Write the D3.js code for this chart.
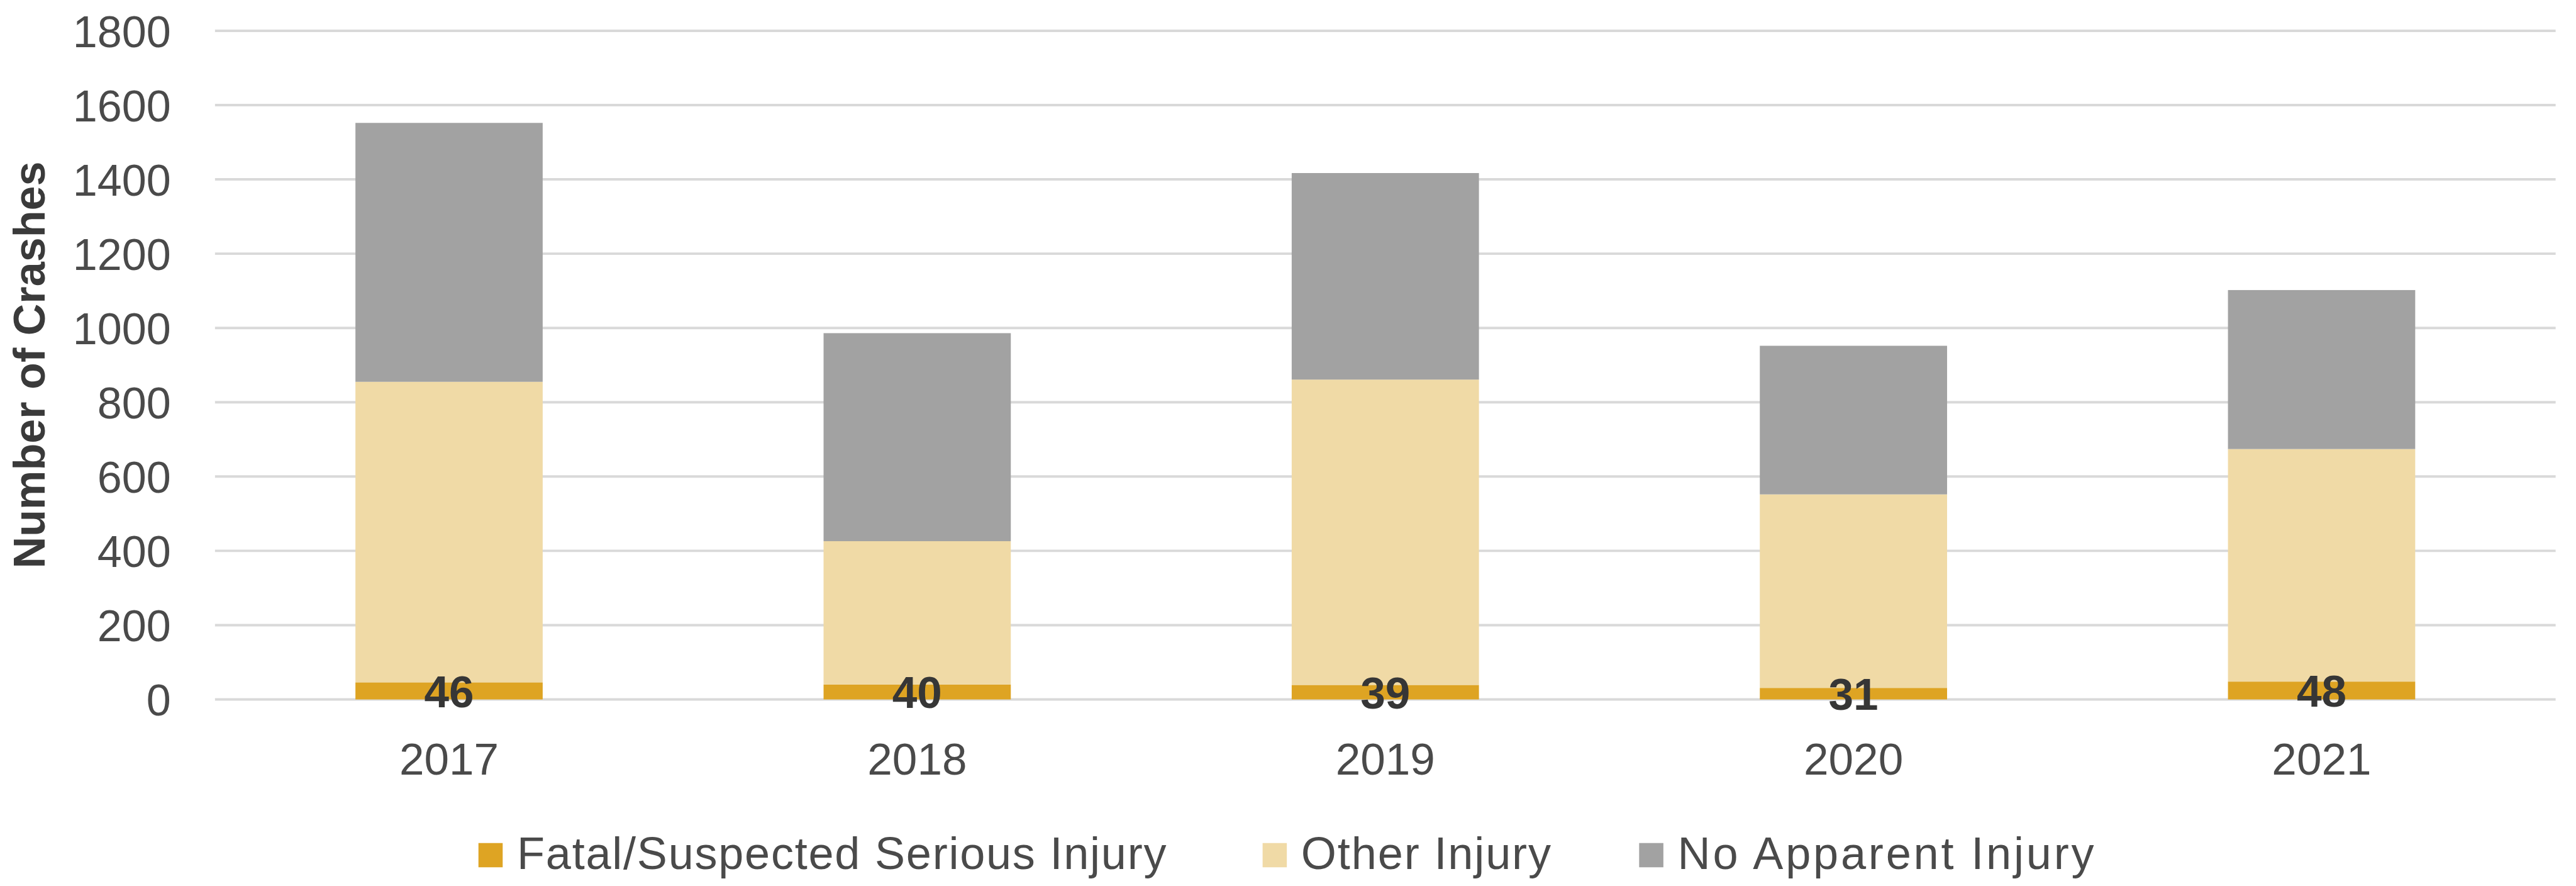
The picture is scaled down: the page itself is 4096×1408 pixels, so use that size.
<!DOCTYPE html>
<html>
<head>
<meta charset="utf-8">
<script src="https://cdn.jsdelivr.net/npm/d3@7"></script>
<style>
  html, body { margin: 0; padding: 0; background: #ffffff; }
  svg { display: block; }
  text { font-family: "Liberation Sans", Arial, sans-serif; }
</style>
</head>
<body>
<svg id="chart" width="4096" height="1408"></svg>
<script>
// Crash counts by injury severity, per year
const years = ["2017", "2018", "2019", "2020", "2021"];
const fatalSerious = [46, 40, 39, 31, 48];
const otherInjury = [809, 386, 822, 521, 626];
const noApparentInjury = [697, 560, 556, 400, 428];
const seriesNames = ["Fatal/Suspected Serious Injury", "Other Injury", "No Apparent Injury"];
const seriesColors = ["#DEA423", "#F0DAA6", "#A2A2A2"];
const yTicks = [0, 200, 400, 600, 800, 1000, 1200, 1400, 1600, 1800];

// Layout is expressed in a 4144 x 1425 frame and scaled to the window.
const S = 0.988;
const M = { left: 346, right: 4113, top: 49.5, bottom: 1125 };

const svg = d3.select("#chart");
const root = svg.append("g").attr("transform", `scale(${S})`);

const rows = years.map((y, i) => ({
  year: y,
  fatal: fatalSerious[i],
  other: otherInjury[i],
  none: noApparentInjury[i]
}));
const keys = ["fatal", "other", "none"];
const stacked = d3.stack().keys(keys)(rows);

const x = d3.scaleBand()
  .domain(years)
  .range([M.left, M.right])
  .paddingInner(0.6)
  .paddingOuter(0.3);

const y = d3.scaleLinear()
  .domain([0, 1800])
  .range([M.bottom, M.top]);

// Horizontal gridlines
root.append("g")
  .selectAll("line")
  .data(yTicks)
  .join("line")
  .attr("x1", M.left)
  .attr("x2", M.right)
  .attr("y1", d => y(d))
  .attr("y2", d => y(d))
  .attr("stroke", "#D9D9D9")
  .attr("stroke-width", 4);

// Y axis tick labels (plain integers, no thousands separator)
const yAxis = d3.axisLeft(y)
  .tickValues(yTicks)
  .tickFormat(d3.format("d"))
  .tickSize(0)
  .tickPadding(0);
const yg = root.append("g")
  .attr("transform", `translate(275,0)`)
  .call(yAxis);
yg.select(".domain").remove();
yg.selectAll("text")
  .attr("font-family", "Liberation Sans, Arial, sans-serif")
  .attr("font-size", 71)
  .attr("fill", "#4A4A4A")
  .attr("dy", "0.36em");

// Stacked bars
root.append("g")
  .selectAll("g")
  .data(stacked)
  .join("g")
  .attr("fill", (d, i) => seriesColors[i])
  .selectAll("rect")
  .data(d => d)
  .join("rect")
  .attr("x", d => x(d.data.year))
  .attr("width", x.bandwidth())
  .attr("y", d => y(d[1]))
  .attr("height", d => y(d[0]) - y(d[1]));

// Value labels on the fatal/serious segment
root.append("g")
  .selectAll("text")
  .data(stacked[0])
  .join("text")
  .attr("x", d => x(d.data.year) + x.bandwidth() / 2)
  .attr("y", d => (y(d[0]) + y(d[1])) / 2)
  .attr("dy", "0.36em")
  .attr("text-anchor", "middle")
  .attr("font-size", 72)
  .attr("font-weight", "bold")
  .attr("fill", "#363636")
  .text(d => d.data.fatal);

// X axis category labels
const xAxis = d3.axisBottom(x).tickSize(0).tickPadding(0);
const xg = root.append("g")
  .attr("transform", `translate(0,1246)`)
  .call(xAxis);
xg.select(".domain").remove();
xg.selectAll("text")
  .attr("font-family", "Liberation Sans, Arial, sans-serif")
  .attr("font-size", 72)
  .attr("fill", "#4A4A4A")
  .attr("dy", 0);

// Y axis title
root.append("text")
  .attr("transform", "translate(72,587) rotate(-90)")
  .attr("text-anchor", "middle")
  .attr("font-size", 71)
  .attr("font-weight", "bold")
  .attr("fill", "#3A3A3A")
  .text("Number of Crashes");

// Legend: swatch + label, each item at its own horizontal slot
const legendX = [770, 2032, 2638];
const legendTextWidth = [1045, 402, 670];
const legend = root.append("g")
  .selectAll("g")
  .data(seriesNames)
  .join("g")
  .attr("transform", (d, i) => `translate(${legendX[i]},0)`);
legend.append("rect")
  .attr("x", 0)
  .attr("y", 1356)
  .attr("width", 39)
  .attr("height", 39)
  .attr("fill", (d, i) => seriesColors[i]);
legend.append("text")
  .attr("x", 62)
  .attr("y", 1398)
  .attr("font-size", 73)
  .attr("fill", "#4A4A4A")
  .attr("textLength", (d, i) => legendTextWidth[i])
  .attr("lengthAdjust", "spacing")
  .text(d => d);
</script>
</body>
</html>
